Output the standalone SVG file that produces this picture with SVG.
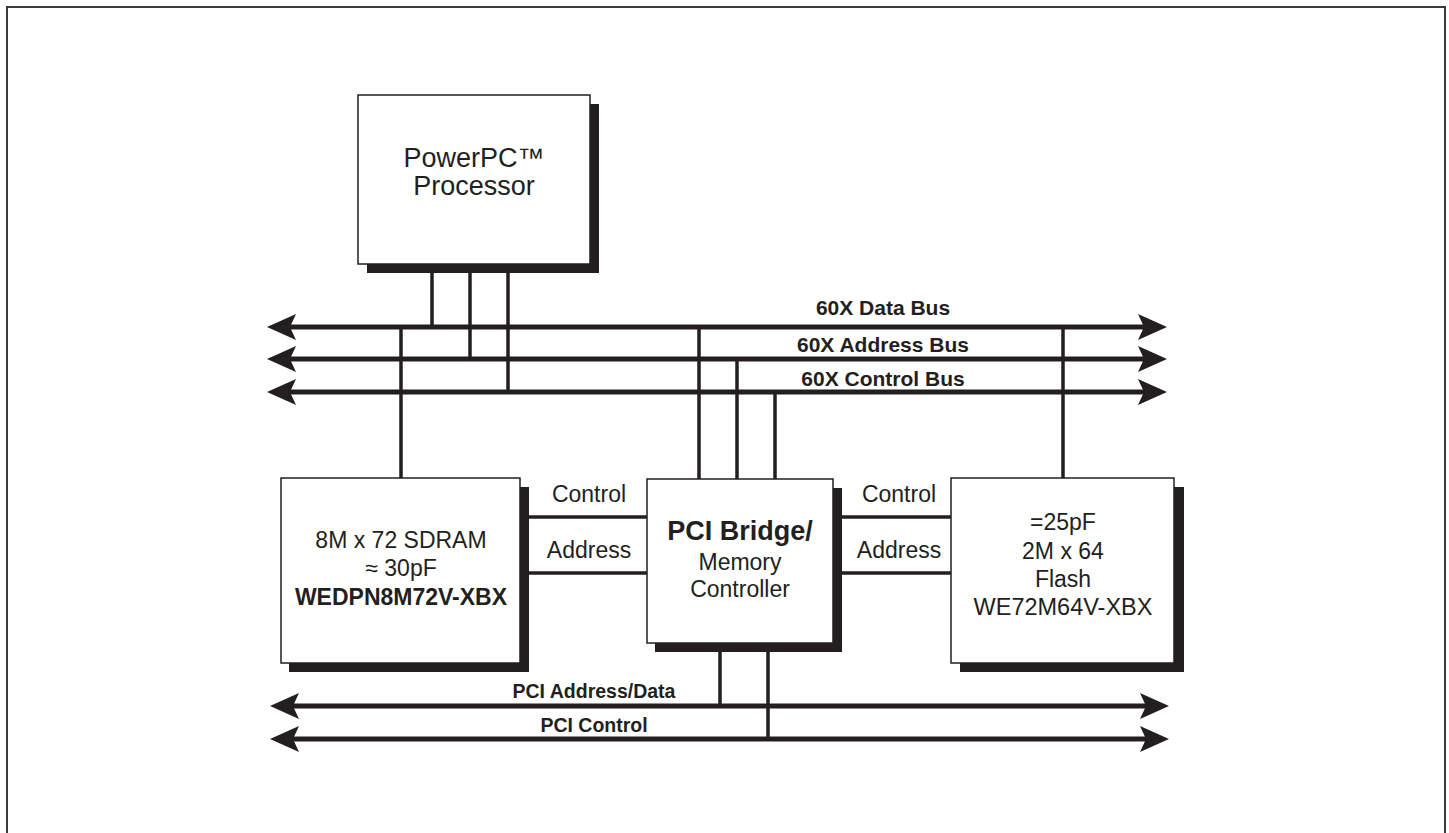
<svg xmlns="http://www.w3.org/2000/svg" width="1449" height="833" viewBox="0 0 1449 833">
<style>
.frame{fill:none;stroke:#3a3a3a;stroke-width:2}
.shadow{fill:#231f20}
.box{fill:#fff;stroke:#231f20;stroke-width:1.5}
.bus{stroke:#231f20;stroke-width:5;fill:none}
.wire{stroke:#231f20;stroke-width:3.5;fill:none}
.head{fill:#231f20}
text{font-family:"Liberation Sans",Arial,sans-serif;fill:#231f20;text-anchor:middle}
.b{font-weight:bold}
</style>
<defs>
<path id="hl" d="M0,0 L29,-13 L23,0 L29,13 Z"/>
<path id="hr" d="M0,0 L-29,-13 L-23,0 L-29,13 Z"/>
</defs>
<rect width="1449" height="833" fill="#fff"/>
<path class="frame" d="M7,840 L7,7 L1445,7 L1445,840"/>

<g id="connectors">
  <!-- 60X buses -->
  <line class="bus" x1="285" y1="327" x2="1150" y2="327"/>
  <line class="bus" x1="285" y1="359" x2="1150" y2="359"/>
  <line class="bus" x1="285" y1="392" x2="1150" y2="392"/>
  <use href="#hl" class="head" x="267" y="327"/>
  <use href="#hl" class="head" x="267" y="359"/>
  <use href="#hl" class="head" x="267" y="392"/>
  <use href="#hr" class="head" x="1167" y="327"/>
  <use href="#hr" class="head" x="1167" y="359"/>
  <use href="#hr" class="head" x="1167" y="392"/>
  <!-- PCI buses -->
  <line class="bus" x1="288" y1="706" x2="1152" y2="706"/>
  <line class="bus" x1="288" y1="739" x2="1152" y2="739"/>
  <use href="#hl" class="head" x="270" y="706"/>
  <use href="#hl" class="head" x="270" y="739"/>
  <use href="#hr" class="head" x="1169" y="706"/>
  <use href="#hr" class="head" x="1169" y="739"/>
  <!-- processor drops -->
  <line class="wire" x1="432" y1="264" x2="432" y2="327"/>
  <line class="wire" x1="470" y1="264" x2="470" y2="359"/>
  <line class="wire" x1="508" y1="264" x2="508" y2="392"/>
  <!-- SDRAM -->
  <line class="wire" x1="401" y1="327" x2="401" y2="478"/>
  <!-- bridge top -->
  <line class="wire" x1="699" y1="327" x2="699" y2="479"/>
  <line class="wire" x1="737" y1="359" x2="737" y2="479"/>
  <line class="wire" x1="775" y1="392" x2="775" y2="479"/>
  <!-- flash -->
  <line class="wire" x1="1063" y1="327" x2="1063" y2="478"/>
  <!-- bridge bottom -->
  <line class="wire" x1="720" y1="643" x2="720" y2="706"/>
  <line class="wire" x1="768" y1="643" x2="768" y2="739"/>
  <!-- control/address -->
  <line class="wire" x1="520" y1="517" x2="647" y2="517"/>
  <line class="wire" x1="520" y1="573" x2="647" y2="573"/>
  <line class="wire" x1="833" y1="517" x2="951" y2="517"/>
  <line class="wire" x1="833" y1="573" x2="951" y2="573"/>
  <text x="589" y="502" font-size="23">Control</text>
  <text x="589" y="558" font-size="23">Address</text>
  <text x="899" y="502" font-size="23">Control</text>
  <text x="899" y="558" font-size="23">Address</text>
  <text class="b" x="883" y="315" font-size="21">60X Data Bus</text>
  <text class="b" x="883" y="352" font-size="21">60X Address Bus</text>
  <text class="b" x="883" y="386" font-size="21">60X Control Bus</text>
  <text class="b" x="594" y="698" font-size="19.5">PCI Address/Data</text>
  <text class="b" x="594" y="732" font-size="19.5">PCI Control</text>
</g>

<g id="processor">
  <rect class="shadow" x="367" y="104" width="232" height="169"/>
  <rect class="box" x="358" y="95" width="232" height="169"/>
  <text x="474" y="167" font-size="27">PowerPC™</text>
  <text x="474" y="195" font-size="27">Processor</text>
</g>

<g id="sdram">
  <rect class="shadow" x="289" y="487" width="240" height="185"/>
  <rect class="box" x="281" y="478" width="239" height="185"/>
  <text x="401" y="548" font-size="23">8M x 72 SDRAM</text>
  <text x="401" y="576" font-size="23">≈ 30pF</text>
  <text class="b" x="401" y="605" font-size="23">WEDPN8M72V-XBX</text>
</g>

<g id="bridge">
  <rect class="shadow" x="655" y="488" width="187" height="164"/>
  <rect class="box" x="647" y="479" width="186" height="164"/>
  <text class="b" x="740" y="540" font-size="27">PCI Bridge/</text>
  <text x="740" y="570" font-size="23">Memory</text>
  <text x="740" y="597" font-size="23">Controller</text>
</g>

<g id="flash">
  <rect class="shadow" x="960" y="487" width="224" height="185"/>
  <rect class="box" x="951" y="478" width="223" height="185"/>
  <text x="1063" y="530" font-size="23">=25pF</text>
  <text x="1063" y="559" font-size="23">2M x 64</text>
  <text x="1063" y="587" font-size="23">Flash</text>
  <text x="1063" y="615" font-size="23.5">WE72M64V-XBX</text>
</g>
</svg>
